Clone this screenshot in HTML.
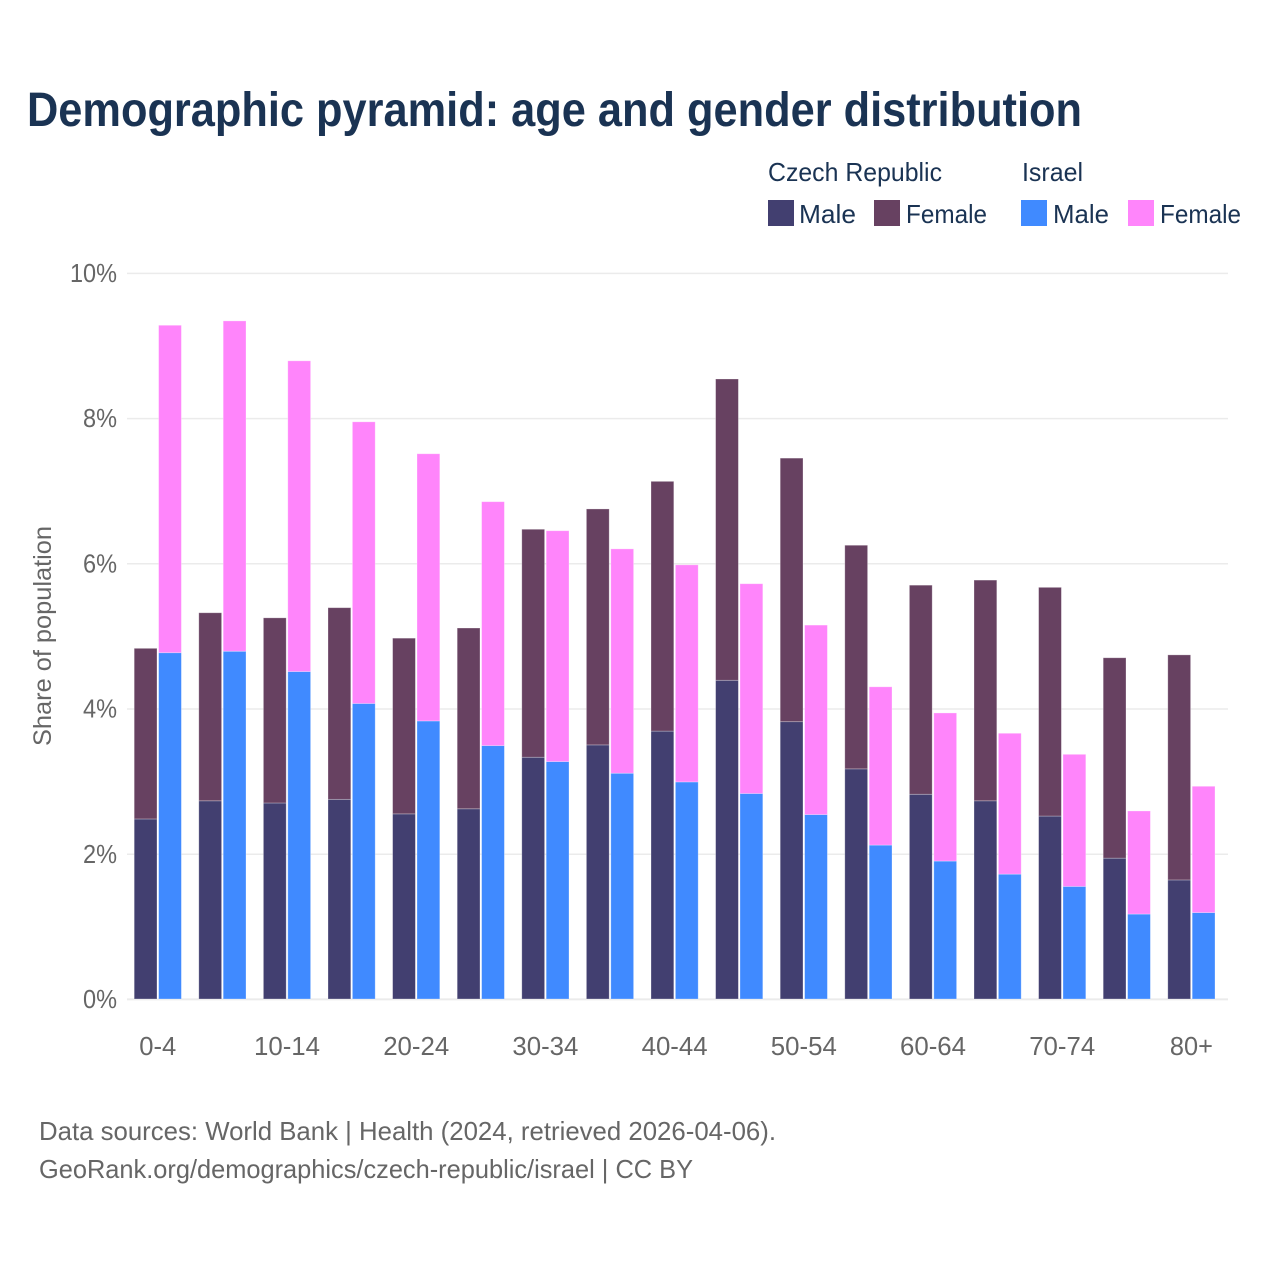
<!DOCTYPE html>
<html lang="en">
<head>
<meta charset="utf-8">
<title>Demographic pyramid</title>
<style>
html,body{margin:0;padding:0;background:#fff;}
svg{display:block;font-family:"Liberation Sans",Arial,sans-serif;}
</style>
</head>
<body>
<svg id="chart" width="1280" height="1280" viewBox="0 0 1280 1280" xmlns="http://www.w3.org/2000/svg">
  <rect x="0" y="0" width="1280" height="1280" fill="#ffffff"/>
  <text x="27" y="126" font-size="48" font-weight="700" fill="#1a3353" textLength="1055" lengthAdjust="spacingAndGlyphs">Demographic pyramid: age and gender distribution</text>

  <g font-size="26" fill="#1a3353">
    <text x="768" y="181" textLength="174" lengthAdjust="spacingAndGlyphs">Czech Republic</text>
    <text x="1022" y="181" textLength="61" lengthAdjust="spacingAndGlyphs">Israel</text>
    <rect x="768" y="200" width="26" height="26" fill="#423f70"/>
    <text x="799" y="223" textLength="57" lengthAdjust="spacingAndGlyphs">Male</text>
    <rect x="874" y="200" width="26" height="26" fill="#674161"/>
    <text x="906" y="223" textLength="81" lengthAdjust="spacingAndGlyphs">Female</text>
    <rect x="1021" y="200" width="26" height="26" fill="#408aff"/>
    <text x="1053" y="223" textLength="56" lengthAdjust="spacingAndGlyphs">Male</text>
    <rect x="1128" y="200" width="26" height="26" fill="#ff85fb"/>
    <text x="1160" y="223" textLength="81" lengthAdjust="spacingAndGlyphs">Female</text>
  </g>

  <text transform="translate(51,636) rotate(-90)" text-anchor="middle" font-size="25" fill="#666666" textLength="220" lengthAdjust="spacingAndGlyphs">Share of population</text>

  <g id="grid"></g>
  <g id="yticks"></g>
  <g id="bars"></g>
  <g id="xticks"></g>

  <text x="39" y="1140" font-size="26" fill="#666666" textLength="737" lengthAdjust="spacingAndGlyphs">Data sources: World Bank | Health (2024, retrieved 2026-04-06).</text>
  <text x="39" y="1178" font-size="26" fill="#666666" textLength="654" lengthAdjust="spacingAndGlyphs">GeoRank.org/demographics/czech-republic/israel | CC BY</text>
</svg>
<script>
const categories = ['0-4','5-9','10-14','15-19','20-24','25-29','30-34','35-39','40-44','45-49','50-54','55-59','60-64','65-69','70-74','75-79','80+'];
const shownCategories = ['0-4','10-14','20-24','30-34','40-44','50-54','60-64','70-74','80+'];
const czechMale = [2.48,2.73,2.70,2.75,2.55,2.62,3.33,3.50,3.69,4.39,3.82,3.17,2.82,2.73,2.52,1.94,1.64];
const czechFemale = [2.35,2.59,2.55,2.64,2.42,2.49,3.14,3.25,3.44,4.15,3.63,3.08,2.88,3.04,3.15,2.76,3.10];
const israelMale = [4.77,4.79,4.51,4.07,3.83,3.49,3.27,3.11,2.99,2.83,2.54,2.12,1.90,1.72,1.55,1.17,1.19];
const israelFemale = [4.51,4.55,4.28,3.88,3.68,3.36,3.18,3.09,2.99,2.89,2.61,2.18,2.04,1.94,1.82,1.42,1.74];
const yTicks = [0,2,4,6,8,10];
const yTickWidths = {0:34,2:34,4:34,6:34,8:34,10:47};

const NS = 'http://www.w3.org/2000/svg';
function yScale(v){ return 999 - v * 72.6; }
function xScale(i){ return 134.2 + i * 64.6; }
const barWidth = 22.8;
const barGap = 24.4;

function make(tag, attrs, parent){
  const el = document.createElementNS(NS, tag);
  for (const k in attrs) el.setAttribute(k, attrs[k]);
  parent.appendChild(el);
  return el;
}

const grid = document.getElementById('grid');
const yG = document.getElementById('yticks');
yTicks.forEach(function(t){
  const line = make('line', {x1:127, x2:1228, y1:yScale(t)+0.4, y2:yScale(t)+0.4, stroke:'#ebebeb', 'stroke-width':t===0?2:1.5}, grid);
  
  
  const lab = make('text', {x:117, y:yScale(t)+9, 'text-anchor':'end', 'font-size':26, fill:'#666666', textLength:yTickWidths[t], lengthAdjust:'spacingAndGlyphs'}, yG);
  
  
  lab.textContent = t + '%';
});

const barsG = document.getElementById('bars');
function drawBar(x, base, value, color){
  const top = yScale(base + value);
  const r = make('rect', {x:x, y:top, width:barWidth, height:yScale(base)-top, fill:color, stroke:'#ffffff', 'stroke-opacity':0.35, 'stroke-width':0.8}, barsG);
  
  
}
categories.forEach(function(c, i){
  const x = xScale(i);
  drawBar(x, 0, czechMale[i], '#423f70');
  drawBar(x, czechMale[i], czechFemale[i], '#674161');
  drawBar(x + barGap, 0, israelMale[i], '#408aff');
  drawBar(x + barGap, israelMale[i], israelFemale[i], '#ff85fb');
});

const xG = document.getElementById('xticks');
categories.forEach(function(c, i){
  if (shownCategories.indexOf(c) < 0) return;
  const lab = make('text', {x:xScale(i)+23.6, y:1055, 'text-anchor':'middle', 'font-size':26, fill:'#666666', textLength:c.length>3?66:(c==='0-4'?37:43), lengthAdjust:'spacingAndGlyphs'}, xG);
  
  
  lab.textContent = c;
});
</script>
</body>
</html>
